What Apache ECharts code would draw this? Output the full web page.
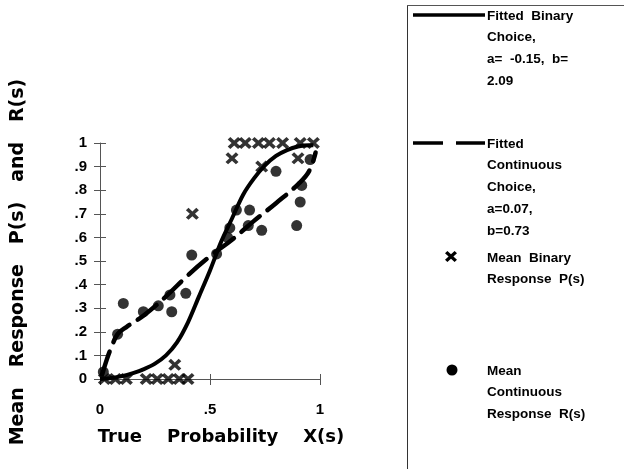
<!DOCTYPE html>
<html>
<head>
<meta charset="utf-8">
<script src="https://cdn.jsdelivr.net/npm/echarts@6/dist/echarts.min.js"></script>
<style>
html,body{margin:0;padding:0;background:#fff;}
#chart{width:627px;height:469px;}
</style>
</head>
<body>
<div id="chart"></div>
<script>
// ---- data ----
var binaryFitX = [0, 0.05, 0.1, 0.15, 0.2, 0.25, 0.3, 0.35, 0.4, 0.45, 0.5, 0.55, 0.6, 0.65, 0.7, 0.75, 0.8, 0.85, 0.9, 0.95, 0.97];
var binaryFitY = [0, 0.004, 0.012, 0.025, 0.042, 0.065, 0.10, 0.155, 0.24, 0.35, 0.46, 0.58, 0.68, 0.78, 0.85, 0.905, 0.945, 0.97, 0.985, 0.99, 0.99];

var contFitX = [0.01, 0.03, 0.05, 0.08, 0.12, 0.2, 0.3, 0.4, 0.5, 0.6, 0.7, 0.8, 0.9, 0.95, 0.98];
var contFitY = [0.02, 0.08, 0.13, 0.19, 0.22, 0.27, 0.35, 0.44, 0.52, 0.59, 0.67, 0.745, 0.825, 0.88, 0.96];

var binaryX = [0.02, 0.07, 0.12, 0.21, 0.26, 0.31, 0.36, 0.40, 0.34, 0.42, 0.60, 0.61, 0.66, 0.72, 0.77, 0.83, 0.735, 0.90, 0.91, 0.97];
var binaryY = [0, 0, 0, 0, 0, 0, 0, 0, 0.06, 0.70, 0.935, 1, 1, 1, 1, 1, 0.90, 0.935, 1, 1];

var contX = [0.015, 0.08, 0.106, 0.197, 0.265, 0.318, 0.326, 0.39, 0.417, 0.53, 0.58, 0.59, 0.62, 0.68, 0.674, 0.735, 0.80, 0.917, 0.91, 0.894, 0.955];
var contY = [0.03, 0.19, 0.32, 0.285, 0.31, 0.356, 0.285, 0.363, 0.525, 0.53, 0.60, 0.64, 0.716, 0.716, 0.65, 0.63, 0.88, 0.82, 0.75, 0.65, 0.93];

var xTicks = {0: '0', 0.5: '.5', 1: '1'};
var yTickLabel = function (v) { return v === 0 ? '0' : (v >= 1 ? '1' : v.toFixed(1).replace('0.', '.')); };

function pairs(xs, ys) { return xs.map(function (x, i) { return [x, ys[i]]; }); }

var crossPath = 'path://M0,2 L2,0 L5,3 L8,0 L10,2 L7,5 L10,8 L8,10 L5,7 L2,10 L0,8 L3,5 Z';
var crossPts = [[0,2],[2,0],[5,3],[8,0],[10,2],[7,5],[10,8],[8,10],[5,7],[2,10],[0,8],[3,5]];
var FONT = '"Liberation Sans", Arial, sans-serif';
var TFONT = '"DejaVu Sans", sans-serif';

var chart = echarts.init(document.getElementById('chart'), null, {renderer: 'canvas'});
var axisLineStyle = {color: '#555', width: 1};
var option = {
  animation: false,
  backgroundColor: '#fff',
  grid: {left: 100, right: 307, top: 143, bottom: 90},
  xAxis: [{
    type: 'value', min: 0, max: 1, interval: 0.5,
    axisLine: {show: true, lineStyle: axisLineStyle},
    axisTick: {show: true, length: 6, lineStyle: axisLineStyle},
    splitLine: {show: false},
    axisLabel: {formatter: function (v) { return xTicks[v] !== undefined ? xTicks[v] : ''; }, color: '#000', fontFamily: FONT, fontWeight: 'bold', fontSize: 15, margin: 23, showMaxLabel: true, showMinLabel: true}
  }, {
    type: 'value', min: 0, max: 1, interval: 0.5, position: 'bottom',
    axisLine: {show: false},
    axisTick: {show: true, inside: true, length: 5, lineStyle: axisLineStyle},
    axisLabel: {show: false}, splitLine: {show: false}
  }],
  yAxis: [{
    type: 'value', min: 0, max: 1, interval: 0.1,
    axisLine: {show: true, lineStyle: axisLineStyle},
    axisTick: {show: true, length: 6, lineStyle: axisLineStyle},
    splitLine: {show: false},
    axisLabel: {formatter: yTickLabel, color: '#000', fontFamily: FONT, fontWeight: 'bold', fontSize: 15, margin: 13}
  }, {
    type: 'value', min: 0, max: 1, interval: 0.1, position: 'left',
    axisLine: {show: false},
    axisTick: {show: true, inside: true, length: 6, lineStyle: axisLineStyle},
    axisLabel: {show: false}, splitLine: {show: false}
  }],
  series: [{
    name: 'Fitted Binary Choice', type: 'line', smooth: 0.3, showSymbol: false,
    data: pairs(binaryFitX, binaryFitY),
    lineStyle: {color: '#000', width: 4}, z: 3
  }, {
    name: 'Fitted Continuous Choice', type: 'line', smooth: 0.4, showSymbol: false,
    data: pairs(contFitX, contFitY),
    lineStyle: {color: '#000', width: 4.5, type: [24, 10], cap: 'round'}, z: 3
  }, {
    name: 'Mean Binary Response P(s)', type: 'scatter', symbol: crossPath, symbolSize: [13, 12],
    data: pairs(binaryX, binaryY), itemStyle: {color: '#000'}, z: 4
  }, {
    name: 'Mean Continuous Response R(s)', type: 'scatter', symbol: 'circle', symbolSize: 11,
    data: pairs(contX, contY), itemStyle: {color: '#000'}, z: 4
  }],
  graphic: [
    // axis titles
    {type: 'text', x: 18, y: 262, rotation: Math.PI / 2,
     style: {text: 'Mean   Response   P(s)   and   R(s)', font: 'bold 19px ' + TFONT, fill: '#000', align: 'center', verticalAlign: 'middle'}},
    {type: 'text', x: 221, y: 437,
     style: {text: 'True    Probability    X(s)', font: 'bold 18px ' + TFONT, fill: '#000', align: 'center', verticalAlign: 'middle'}},
    // legend box
    {type: 'line', shape: {x1: 407.5, y1: 5, x2: 407.5, y2: 469}, style: {stroke: '#333', lineWidth: 1}},
    {type: 'line', shape: {x1: 407, y1: 5.5, x2: 624, y2: 5.5}, style: {stroke: '#555', lineWidth: 1}},
    {type: 'line', shape: {x1: 413, y1: 15, x2: 485, y2: 15}, style: {stroke: '#000', lineWidth: 3.5}},
    {type: 'text', x: 487, y: 5, style: {text: 'Fitted  Binary\nChoice,\na=  -0.15,  b=\n2.09', font: 'bold 13.5px ' + FONT, fill: '#000', lineHeight: 21.8}},
    {type: 'line', shape: {x1: 413, y1: 143, x2: 485, y2: 143}, style: {stroke: '#000', lineWidth: 3.5, lineDash: [30, 13]}},
    {type: 'text', x: 487, y: 133, style: {text: 'Fitted\nContinuous\nChoice,\na=0.07,\nb=0.73', font: 'bold 13.5px ' + FONT, fill: '#000', lineHeight: 21.8}},
    {type: 'polygon', x: 445, y: 251, scaleX: 1.2, scaleY: 1.1, shape: {points: crossPts}, style: {fill: '#000'}},
    {type: 'text', x: 487, y: 247, style: {text: 'Mean  Binary\nResponse  P(s)', font: 'bold 13.5px ' + FONT, fill: '#000', lineHeight: 21.8}},
    {type: 'circle', shape: {cx: 452, cy: 370, r: 5.5}, style: {fill: '#000'}},
    {type: 'text', x: 487, y: 360, style: {text: 'Mean\nContinuous\nResponse  R(s)', font: 'bold 13.5px ' + FONT, fill: '#000', lineHeight: 21.8}}
  ]
};
chart.setOption(option);
</script>
</body>
</html>
